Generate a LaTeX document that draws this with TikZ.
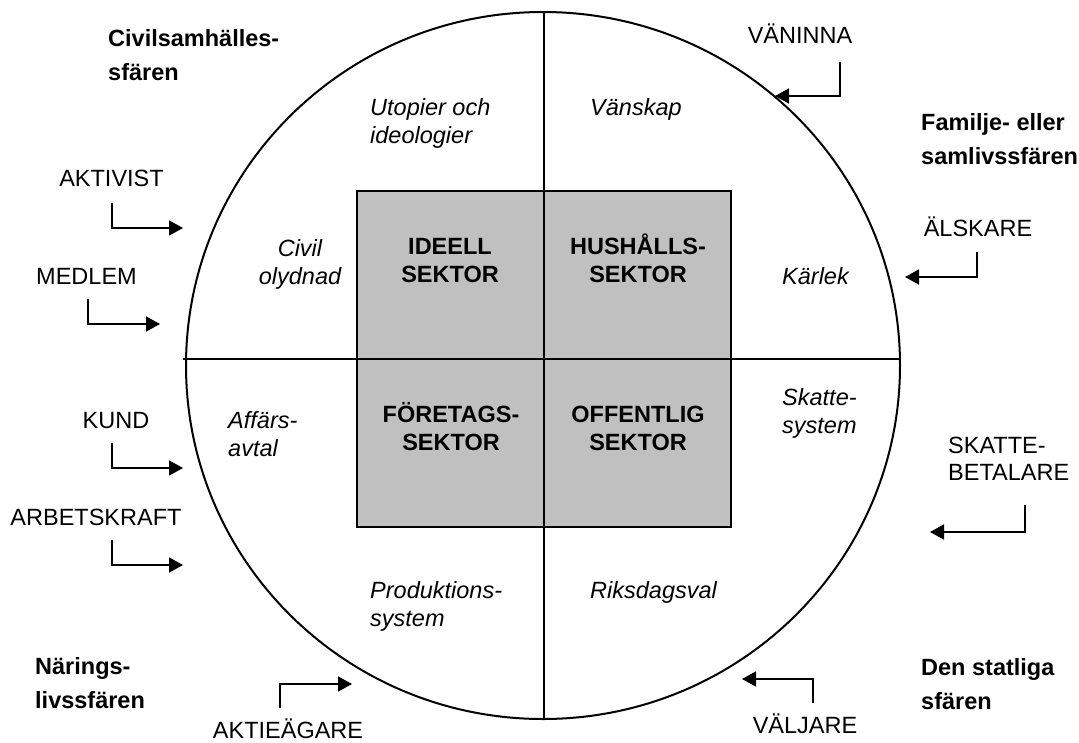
\documentclass[tikz,border=0pt]{standalone}
\usepackage{fontspec}
\setmainfont{Liberation Sans}
\usetikzlibrary{arrows.meta}
\definecolor{boxgray}{RGB}{192,192,192}
\begin{document}
\begin{tikzpicture}[x=1pt,y=-1pt,
  txt/.style={inner sep=0pt, font=\fontsize{23.5}{27}\selectfont},
  head/.style={txt, font=\bfseries\fontsize{23.5}{34}\selectfont, align=left, anchor=base west},
  quad/.style={txt, font=\itshape\fontsize{23.5}{28}\selectfont, align=left, anchor=base west},
  actor/.style={txt, align=left, anchor=base},
  sectxt/.style={txt, font=\bfseries\fontsize{23.5}{28}\selectfont, align=center, anchor=base},
  sector/.style={draw, line width=2pt, fill=boxgray, minimum width=187pt, minimum height=168pt, inner sep=0pt},
  flow/.style={line width=1.5pt, -{Triangle[length=14pt,width=15pt]}},
  frame/.style={line width=2pt}
]
\useasboundingbox (0,0) rectangle (1079,742);

% sector boxes
\node[sector] (ideell) at (450.5,275) {};
\node[sector] (hush) at (637.5,275) {};
\node[sector] (foret) at (450.5,443) {};
\node[sector] (offent) at (637.5,443) {};

% circle and axes
\draw[frame] (543,365.5) ellipse [x radius=357, y radius=353.5];
\coordinate (hl) at (183,359);
\coordinate (hr) at (900,359);
\coordinate (vt) at (544,12);
\coordinate (vb) at (544,719);
\draw[frame] (hl) -- (hr);
\draw[frame] (vt) -- (vb);

% sector texts (base anchor = last line)
\node[sectxt] (tIdeell) at (450,282) {IDEELL\\SEKTOR};
\node[sectxt] (tHush) at (638,282) {HUSHÅLLS-\\SEKTOR};
\node[sectxt] (tForet) at (451,450) {FÖRETAGS-\\SEKTOR};
\node[sectxt] (tOffent) at (638,450) {OFFENTLIG\\SEKTOR};

% sphere headings
\node[head] (civ) at (108,80) {Civilsamhälles-\\sfären};
\node[head] (fam) at (921,164) {Familje- eller\\samlivssfären};
\node[head] (nar) at (35,708) {Närings-\\livssfären};
\node[head] (sta) at (921,709) {Den statliga\\sfären};

% quadrant labels
\node[quad] (utop) at (370,143) {Utopier och\\ideologier};
\node[quad] (vans) at (590,115) {Vänskap};
\node[quad, align=center, anchor=base] (civil) at (300,284) {Civil\\olydnad};
\node[quad] (karl) at (782,284) {Kärlek};
\node[quad] (affa) at (228,456) {Affärs-\\avtal};
\node[quad] (skat) at (782,433) {Skatte-\\system};
\node[quad] (prod) at (370,626) {Produktions-\\system};
\node[quad] (riks) at (590,598) {Riksdagsval};

% actors
\node[actor] (vaninna) at (800,43) {VÄNINNA};
\node[actor] (aktivist) at (111.5,186) {AKTIVIST};
\node[actor] (medlem) at (86.5,284) {MEDLEM};
\node[actor] (alskare) at (978,236) {ÄLSKARE};
\node[actor] (kund) at (116,428) {KUND};
\node[actor] (arbets) at (96,525) {ARBETSKRAFT};
\node[actor, anchor=base west] (skattebet) at (948,480) {SKATTE-\\BETALARE};
\node[actor] (aktieag) at (288,738) {AKTIEÄGARE};
\node[actor] (valjare) at (805,733) {VÄLJARE};

% arrows
\coordinate (vanS) at (840,62);   \coordinate (vanT) at (775,96);
\coordinate (aktS) at (112,203);  \coordinate (aktT) at (183,228);
\coordinate (medS) at (88,299);   \coordinate (medT) at (160,324);
\coordinate (alsS) at (977,252);  \coordinate (alsT) at (905,277);
\coordinate (kunS) at (112,443);  \coordinate (kunT) at (183,468);
\coordinate (arbS) at (112,540);  \coordinate (arbT) at (183,565);
\coordinate (skaS) at (1025,505); \coordinate (skaT) at (930,532);
\coordinate (aeS) at (280,708);   \coordinate (aeT) at (352,684);
\coordinate (valS) at (813,703);  \coordinate (valT) at (742,679);
\draw[flow] (vanS) |- (vanT);
\draw[flow] (aktS) |- (aktT);
\draw[flow] (medS) |- (medT);
\draw[flow] (alsS) |- (alsT);
\draw[flow] (kunS) |- (kunT);
\draw[flow] (arbS) |- (arbT);
\draw[flow] (skaS) |- (skaT);
\draw[flow] (aeS) |- (aeT);
\draw[flow] (valS) |- (valT);
\end{tikzpicture}
\end{document}
